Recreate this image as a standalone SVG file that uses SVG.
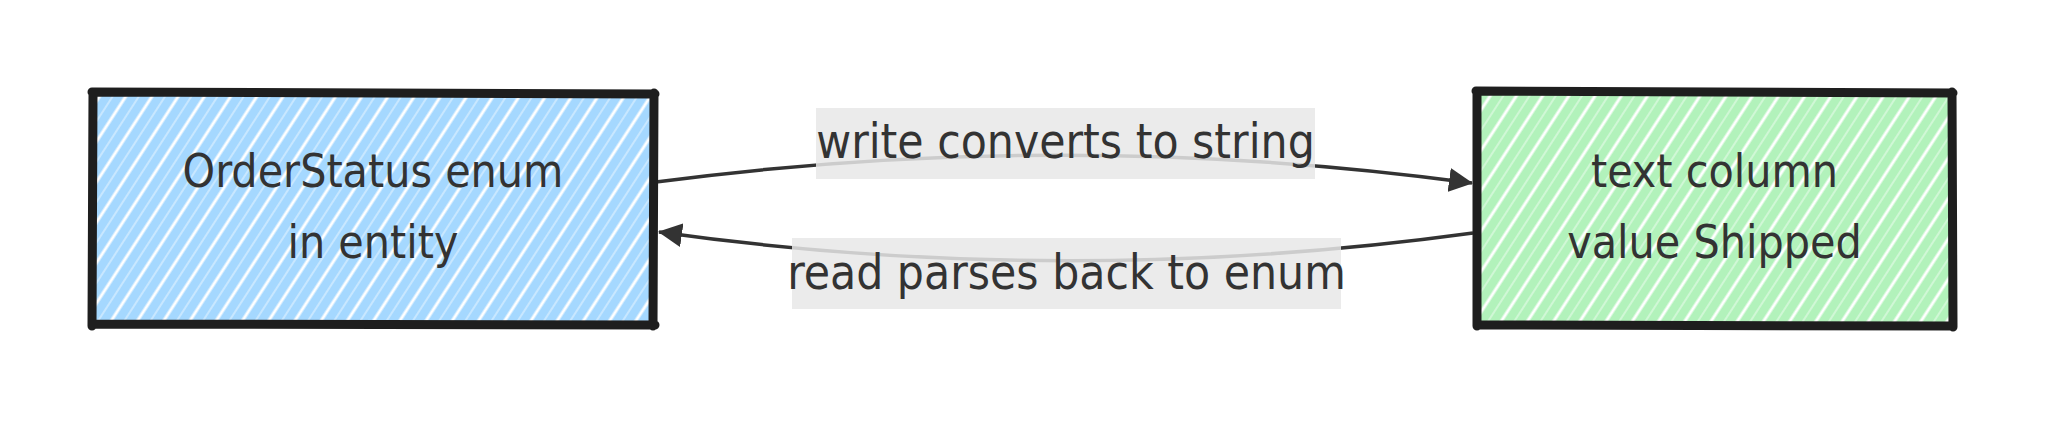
<svg xmlns="http://www.w3.org/2000/svg" width="2070" height="426" viewBox="0 0 2070 426">
  <style>
    .box { stroke: #1e1e1e; stroke-width: 9; stroke-linejoin: round; stroke-linecap: round; }
    .ntext { font-family: "DejaVu Sans Condensed", "DejaVu Sans", "Liberation Sans", sans-serif; font-stretch: condensed; font-size: 46px; fill: #333333; text-anchor: middle; }
    .ltext { font-family: "DejaVu Sans Condensed", "DejaVu Sans", "Liberation Sans", sans-serif; font-stretch: condensed; font-size: 47.5px; fill: #333333; text-anchor: middle; }
    .edge { fill: none; stroke: #333333; stroke-width: 3.5; }
    .lbg { fill: #e8e8e8; fill-opacity: 0.85; }
  </style>
  <defs>
    <pattern id="hatch" width="22" height="22" patternUnits="userSpaceOnUse" patternTransform="rotate(33)">
      <line x1="4" y1="0" x2="4" y2="22" stroke="#ffffff" stroke-width="3"/>
      <line x1="15" y1="0" x2="15" y2="22" stroke="#ffffff" stroke-width="1.3" stroke-opacity="0.6"/>
    </pattern>
    <marker id="arrow" viewBox="0 0 24 24" refX="23" refY="12" markerWidth="24" markerHeight="24" markerUnits="userSpaceOnUse" orient="auto">
      <path d="M0,0 L24,12 L0,24 Z" fill="#333333"/>
    </marker>
  </defs>

  <g id="edges">
    <path class="edge" d="M656,182 Q1065,128 1472,183" marker-end="url(#arrow)"/>
    <path class="edge" d="M1473,233 Q1065,289 659,232" marker-end="url(#arrow)"/>
  </g>

  <g id="node-orderstatus">
    <rect x="92.5" y="93" width="561.5" height="232" fill="#a5d8ff"/>
    <rect x="92.5" y="93" width="561.5" height="232" fill="url(#hatch)"/>
    <path class="box" fill="none" d="M92,92 L655,94 M654,93 L653,326 M655,325 L93,324 M92,326 L93,93"/>
    <text class="ntext" x="373" y="187">OrderStatus enum</text>
    <text class="ntext" x="373" y="258">in entity</text>
  </g>

  <g id="node-textcolumn">
    <rect x="1477" y="92" width="475" height="234" fill="#b2f2bb"/>
    <rect x="1477" y="92" width="475" height="234" fill="url(#hatch)"/>
    <path class="box" fill="none" d="M1476,91 L1953,93 M1952,92 L1953,327 M1953,326 L1478,325 M1477,326 L1477,92"/>
    <text class="ntext" x="1714.5" y="187">text column</text>
    <text class="ntext" x="1714.5" y="258">value Shipped</text>
  </g>

  <g id="label-write">
    <rect class="lbg" x="816" y="108" width="499" height="71"/>
    <text class="ltext" x="1065.5" y="158">write converts to string</text>
  </g>

  <g id="label-read">
    <rect class="lbg" x="792" y="238" width="549" height="71"/>
    <text class="ltext" x="1066.5" y="289">read parses back to enum</text>
  </g>
</svg>
